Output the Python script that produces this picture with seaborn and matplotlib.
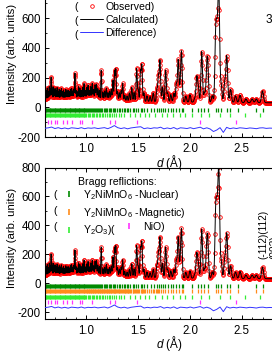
import numpy as np
import matplotlib
matplotlib.use("Agg")
import matplotlib.pyplot as plt
import seaborn as sns
from matplotlib.lines import Line2D

# ---------------- data ----------------
# peak positions (d, Å) and heights above background (arb. units)
peak_d = [0.612, 0.622, 0.632, 0.641, 0.650, 0.659, 0.668, 0.678, 0.688, 0.697,
          0.707, 0.717, 0.727, 0.737, 0.748, 0.758, 0.768, 0.779, 0.790, 0.801,
          0.812, 0.823, 0.834, 0.845, 0.856, 0.867, 0.878, 0.889, 0.900, 0.912,
          0.924, 0.937, 0.950, 0.963, 0.977, 0.990, 1.003, 1.016, 1.029, 1.042,
          1.056, 1.069, 1.083, 1.096, 1.110, 1.125, 1.143, 1.160, 1.176, 1.192,
          1.208, 1.224, 1.240, 1.256, 1.272, 1.284, 1.300, 1.318, 1.335, 1.350,
          1.370, 1.392, 1.415, 1.438, 1.460, 1.485, 1.500, 1.522, 1.535, 1.555,
          1.585, 1.615, 1.645, 1.680, 1.695, 1.710, 1.735, 1.765, 1.785, 1.815,
          1.845, 1.868, 1.886, 1.905, 1.918, 1.960, 2.000, 2.045, 2.065, 2.080,
          2.113, 2.140, 2.162, 2.172, 2.215, 2.248, 2.262, 2.278, 2.300, 2.335,
          2.355, 2.392, 2.440, 2.483, 2.540, 2.600, 2.640, 2.700]
peak_h = [60, 75, 55, 85, 70, 150, 70, 85, 65, 75,
          60, 80, 55, 70, 60, 75, 55, 65, 50, 70,
          60, 65, 55, 70, 80, 60, 75, 180, 65, 55,
          95, 80, 65, 85, 115, 65, 85, 105, 65, 95,
          115, 75, 105, 110, 80, 70, 205, 55, 65, 85,
          55, 65, 75, 140, 200, 215, 65, 55, 70, 120,
          40, 35, 55, 95, 60, 225, 80, 200, 245, 60,
          40, 35, 60, 80, 170, 280, 100, 215, 60, 50,
          60, 120, 285, 95, 330, 40, 50, 25, 165, 100,
          345, 65, 190, 200, 45, 440, 380, 740, 120, 130,
          310, 90, 45, 50, 25, 25, 25, 80]
bg_d = [0.60, 0.90, 1.20, 1.60, 2.00, 2.50, 3.00]
bg_v = [55, 50, 45, 38, 35, 32, 30]

# difference curve (obs - calc), relative to its offset
diff_v = [0, 3, 8, -2, 4, -3, 2, -4, 3, 1, -2, 4, -3, 2, 0, 3, -2, 1, 4, -3,
          6, 18, 4, -2, 3, -4, 2, 5, 8, 10, -3, 2, -2, 3, 1, 7, -4, 2, -3, 5,
          -6, 3, 1, -2, 4, -3, 2, 7, -4, 3, -5, -22, -12, 4, -28, 6, -3, 2, -2, 3,
          1, -2, 2, 0, -3, 2, 3, -1, 1, 0]

# Bragg reflection positions
nuc_d = [0.605, 0.613, 0.621, 0.629, 0.637, 0.645, 0.653, 0.661, 0.669, 0.677,
         0.685, 0.693, 0.701, 0.709, 0.717, 0.725, 0.733, 0.741, 0.749, 0.757,
         0.765, 0.773, 0.781, 0.789, 0.797, 0.805, 0.813, 0.821, 0.829, 0.837,
         0.845, 0.853, 0.861, 0.869, 0.877, 0.885, 0.893, 0.901, 0.909, 0.917,
         0.925, 0.933, 0.941, 0.949, 0.957, 0.965, 0.973, 0.981, 0.989, 0.997,
         1.006, 1.015, 1.024, 1.033, 1.042, 1.052, 1.061, 1.070, 1.080, 1.090,
         1.102, 1.112, 1.122, 1.133, 1.143, 1.155, 1.168, 1.180, 1.190, 1.203,
         1.215, 1.228, 1.240, 1.255, 1.268, 1.280, 1.295, 1.310, 1.325, 1.345,
         1.360, 1.375, 1.390, 1.405, 1.425, 1.445, 1.460, 1.483, 1.500, 1.525,
         1.540, 1.555, 1.585, 1.625, 1.655, 1.680, 1.705, 1.720, 1.740, 1.760,
         1.790, 1.815, 1.835, 1.865, 1.890, 1.920, 1.935, 2.020, 2.075, 2.105,
         2.135, 2.175, 2.250, 2.270, 2.300, 2.355, 2.390, 2.465, 2.640, 2.700]
mag_extra_d = [1.007, 1.028, 1.047, 1.066, 1.085, 1.107, 1.128, 1.149, 1.162, 1.174,
               1.197, 1.209, 1.222, 1.234, 1.247, 1.262, 1.274, 1.288, 1.302, 1.318,
               1.333, 1.352, 1.368, 1.383, 1.398, 1.415, 1.435, 1.452, 1.470, 1.490,
               1.512, 1.532, 1.548, 1.570, 1.600, 1.640, 1.668, 1.693]
y2o3_d = [0.605, 0.613, 0.621, 0.629, 0.637, 0.645, 0.653, 0.661, 0.669, 0.677,
          0.685, 0.693, 0.701, 0.709, 0.717, 0.725, 0.733, 0.741, 0.749, 0.757,
          0.765, 0.773, 0.781, 0.789, 0.797, 0.805, 0.813, 0.821, 0.829, 0.837,
          0.845, 0.853, 0.861, 0.869, 0.877, 0.885, 0.893, 0.901, 0.909, 0.917,
          0.925, 0.933, 0.941, 0.949, 0.957, 0.965, 0.973, 0.981, 0.990, 1.000,
          1.012, 1.024, 1.036, 1.049, 1.062, 1.076, 1.090, 1.104, 1.118, 1.133,
          1.148, 1.164, 1.180, 1.197, 1.214, 1.232, 1.250, 1.270, 1.290, 1.310,
          1.335, 1.360, 1.420, 1.470, 1.520, 1.570, 1.600, 1.665, 1.730, 1.780,
          1.840, 1.905, 1.955, 2.020, 2.110, 2.180, 2.290, 2.390, 2.530, 2.680]
nio_d = [0.630, 0.660, 0.700, 0.720, 0.770, 0.810, 0.860, 0.935, 0.960, 1.055,
         1.230, 1.280, 1.490, 2.100, 2.440]

# ---------------- style ----------------
sns.set_theme(style="ticks")
plt.rcParams.update({
    "font.family": ["Liberation Sans", "DejaVu Sans"],
    "mathtext.fontset": "custom",
    "mathtext.rm": "Liberation Sans",
    "mathtext.it": "Liberation Sans:italic",
    "mathtext.bf": "Liberation Sans:bold",
    "axes.edgecolor": "black", "axes.labelcolor": "black", "text.color": "black",
    "xtick.color": "black", "ytick.color": "black",
    "axes.linewidth": 0.8,
    "xtick.direction": "in", "ytick.direction": "in",
    "xtick.top": True, "ytick.right": True,
    "xtick.major.size": 3.0, "ytick.major.size": 3.0,
    "xtick.minor.size": 1.7, "ytick.minor.size": 1.7,
    "xtick.major.width": 0.7, "ytick.major.width": 0.7,
    "xtick.minor.width": 0.6, "ytick.minor.width": 0.6,
    "xtick.labelsize": 8.3, "ytick.labelsize": 8.3,
    "xtick.major.pad": 4.0, "ytick.major.pad": 3.0,
})

W, H = 272, 352
fig = plt.figure(figsize=(W / 100, H / 100), dpi=100)

# profile
d = np.geomspace(0.6, 3.0, 950)
pd_ = np.array(peak_d)[:, None]
ph_ = np.array(peak_h)[:, None]
calc = np.interp(d, bg_d, bg_v) + (ph_ * np.exp(-0.5 * ((d - pd_) / (0.0035 * pd_)) ** 2)).sum(axis=0)
obs = calc
diff_d = np.linspace(0.6, 2.8, len(diff_v))

C_NUC = "#008a00"
C_MAG = "#ff8c1a"
C_Y2O3 = "#33ee33"
C_NIO = "#ff33ff"
C_DIFF = "#3333ff"

YT = [-200, 0, 200, 400, 600, 800]


def panel(ax, rows, diff_off, ylim, show_top_label=True):
    ax.plot(d, obs, ls="none", marker="o", mfc="none", mec="red", ms=2.6, mew=0.6, zorder=2)
    sns.lineplot(x=d, y=calc, ax=ax, color="black", lw=0.7, sort=False, estimator=None, zorder=3)
    sns.lineplot(x=diff_d, y=np.array(diff_v) + diff_off, ax=ax, color=C_DIFF, lw=0.7,
                 sort=False, estimator=None, zorder=3)
    for pos, center, col in rows:
        ax.vlines(pos, center - 14, center + 14, colors=col, lw=0.9, zorder=2)
    ax.set_xlim(0.6, 3.0)
    ax.set_ylim(*ylim)
    ax.set_xticks([1.0, 1.5, 2.0, 2.5])
    ax.set_xticks(np.arange(0.6, 3.01, 0.1), minor=True)
    ax.set_yticks(YT)
    labels = [str(v) for v in YT]
    if not show_top_label:
        labels[-1] = ""
    ax.set_yticklabels(labels)
    ax.set_yticks(np.arange(-200, 801, 100), minor=True)
    ax.set_xlabel("$d$ (Å)", fontsize=8.5)
    ax.set_ylabel("Intensity (arb. units)", fontsize=8.2)


ax1 = fig.add_axes([45 / W, 1 - 137 / H, 248.6 / W, 155.8 / H])
panel(ax1, [(nuc_d, -17, C_NUC), (y2o3_d, -54, C_Y2O3), (nio_d, -97, C_NIO)], -141, (-200, 850),
      show_top_label=False)
ax1.yaxis.set_label_coords(-0.113, 0.533)
ax1.xaxis.set_label_coords(0.5, -0.10)

ax2 = fig.add_axes([45 / W, 1 - 319.3 / H, 248.6 / W, 151.7 / H])
panel(ax2, [(nuc_d, -17, C_NUC), (nuc_d + mag_extra_d, -55, C_MAG),
            (y2o3_d, -96, C_Y2O3), (nio_d, -127, C_NIO)], -169, (-250, 800))
ax2.yaxis.set_label_coords(-0.113, 0.536)
ax2.xaxis.set_label_coords(0.5, -0.094)
ax2.text(2.704, 168, "(-112)(112)", rotation=90, ha="center", va="bottom", fontsize=7.2)
ax2.text(2.815, 168, "(002)", rotation=90, ha="center", va="bottom", fontsize=7.2)

# top legend
FS = 7.6
h1 = [Line2D([], [], ls="none", marker="o", mfc="none", mec="red", ms=2.6, mew=0.6),
      Line2D([], [], color="black", lw=0.7),
      Line2D([], [], color=C_DIFF, lw=0.7)]
fig.legend(h1, ["Observed)", "Calculated)", "Difference)"], loc="upper left",
           bbox_to_anchor=(80 / W, 1 - 1.5 / H), frameon=False, fontsize=FS,
           handlelength=2.2, handletextpad=0.2, labelspacing=0.3, borderpad=0, borderaxespad=0)
for yy in (7.3, 21.0, 34.7):
    fig.text(74 / W, 1 - yy / H, "(", fontsize=FS, va="center", ha="left")
fig.text(266 / W, 1 - 20 / H, "300 K", fontsize=8.5, va="center", ha="left")

# bottom legend
fig.text(78 / W, 1 - 181.7 / H, "Bragg reflictions:", fontsize=FS, va="center", ha="left")
h2 = [Line2D([], [], ls="none", marker="|", color=C_NUC, ms=5, mew=1.2),
      Line2D([], [], ls="none", marker="|", color=C_MAG, ms=5, mew=1.2),
      Line2D([], [], ls="none", marker="|", color=C_Y2O3, ms=5, mew=1.2)]
fig.legend(h2, ["Y$_2$NiMnO$_6$ -Nuclear)", "Y$_2$NiMnO$_6$ -Magnetic)", "Y$_2$O$_3$)("],
           loc="upper left", bbox_to_anchor=(64 / W, 1 - 188 / H), frameon=False, fontsize=FS,
           handlelength=1.0, handletextpad=0.8, labelspacing=0.35, borderpad=0, borderaxespad=0)
fig.legend([Line2D([], [], ls="none", marker="|", color=C_NIO, ms=5, mew=1.2)], ["NiO)"],
           loc="center left", bbox_to_anchor=(124 / W, 1 - 226.7 / H), frameon=False, fontsize=FS,
           handlelength=1.0, handletextpad=0.8, borderpad=0, borderaxespad=0)
for yy in (195.0, 211.0, 226.7):
    fig.text(53 / W, 1 - yy / H, "(", fontsize=FS, va="center", ha="left")

fig.savefig("out.png", dpi=100)
